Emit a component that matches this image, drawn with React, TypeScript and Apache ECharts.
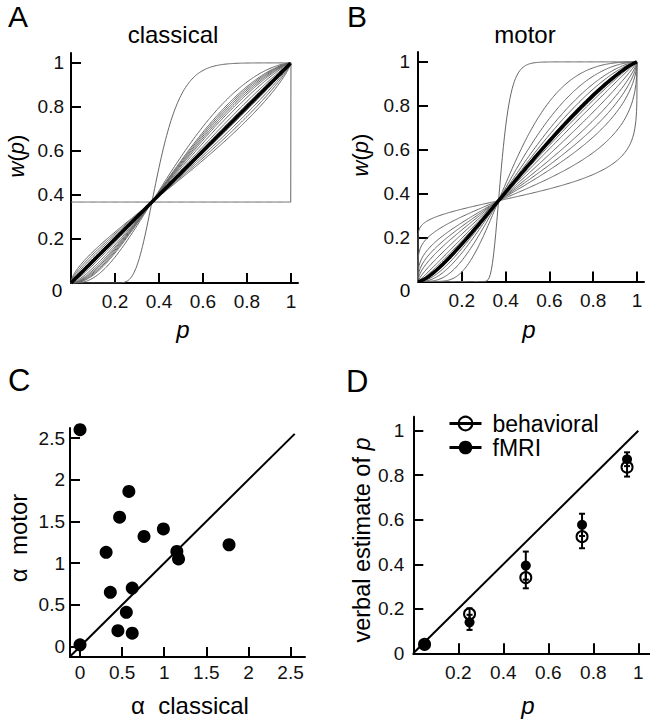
import React, { useEffect, useRef } from "react";
import * as echarts from "echarts";

// ---------- data ----------
// Panel A / B: Prelec weighting curves w(p) = exp(-(-ln p)^alpha), one alpha per subject (estimated from curve shapes)
const classicalCurveAlphas = [0, 5, 1.6, 1.45, 1.4, 1.35, 1.3, 1.25, 1.18, 1.1, 1.05, 0.95, 0.9, 0.85, 0.8];
const classicalGroupAlpha = 1.0;
const motorCurveAlphas = [12, 2.4, 1.8, 1.5, 1.35, 1.25, 1.15, 1.1, 1.02, 0.9, 0.78, 0.68, 0.58, 0.42, 0.22];
const motorGroupAlpha = 1.2;

// Panel C: alpha classical vs alpha motor
const alphaClassical = [0, 0.58, 0.47, 0.99, 0.76, 0.31, 1.15, 1.17, 1.77, 0.36, 0.62, 0.55, 0.45, 0.62, 0];
const alphaMotor = [2.6, 1.86, 1.55, 1.41, 1.32, 1.13, 1.14, 1.05, 1.22, 0.65, 0.7, 0.41, 0.19, 0.16, 0.02];
const identityC = [-0.11, 2.55];

// Panel D: verbal estimates of p
const pLevels = [0.05, 0.25, 0.5, 0.75, 0.95];
const behavioralMean = [0.04, 0.177, 0.34, 0.524, 0.836];
const behavioralErr = [0, 0.025, 0.048, 0.052, 0.042];
const fmriMean = [0.04, 0.139, 0.394, 0.577, 0.872];
const fmriErr = [0, 0.034, 0.063, 0.05, 0.031];
const identityD = [0, 1];

// tick labels
const wTicks = [0.2, 0.4, 0.6, 0.8, 1];
const alphaTicks = [0, 0.5, 1, 1.5, 2, 2.5];
const dTicksY = [0, 0.2, 0.4, 0.6, 0.8, 1];

const FONT = '"Liberation Sans", Arial, Helvetica, sans-serif';

// sample positions along p
const pSamples: number[] = (() => {
  const s = [0, 0.0002, 0.0005, 0.001, 0.002, 0.005];
  for (let i = 2; i <= 198; i++) s.push(i / 200);
  s.push(0.995, 0.998, 0.999, 0.9995, 0.9999, 1);
  return s;
})();

function prelec(p: number, a: number): number {
  if (p >= 1) return 1;
  if (p <= 0) return a === 0 ? Math.exp(-1) : 0;
  return Math.exp(-Math.pow(-Math.log(p), a));
}

function curveSeries(alpha: number, idx: number, thick: boolean) {
  return {
    type: "line",
    xAxisIndex: idx,
    yAxisIndex: idx,
    data: pSamples.map((p) => [p, prelec(p, alpha)]),
    showSymbol: false,
    symbol: "none",
    silent: true,
    animation: false,
    z: thick ? 4 : 2,
    lineStyle: thick ? { color: "#000", width: 3.5 } : { color: "#666", width: 1 },
  };
}

function makeAxis(
  gridIndex: number,
  min: number,
  max: number,
  tickVals: number[],
  labelVals: number[],
  margin: number
) {
  return {
    type: "value",
    gridIndex,
    min,
    max,
    axisLine: { show: true, onZero: false, lineStyle: { color: "#000", width: 2 } },
    axisTick: {
      show: true,
      inside: true,
      length: 10,
      customValues: tickVals,
      lineStyle: { color: "#000", width: 2 },
    },
    axisLabel: {
      show: true,
      customValues: labelVals,
      margin,
      fontSize: 19,
      color: "#111",
      fontFamily: FONT,
      formatter: (v: number) => String(+(+v).toFixed(2)),
    },
    splitLine: { show: false },
  };
}

function txt(
  text: string,
  x: number,
  y: number,
  fontSize: number,
  opts: any = {}
) {
  return {
    type: "text",
    x,
    y,
    rotation: opts.rotation || 0,
    silent: true,
    style: {
      text,
      fill: "#000",
      fontSize,
      fontFamily: FONT,
      fontStyle: opts.italic ? "italic" : "normal",
      textAlign: opts.align || "center",
      textVerticalAlign: "middle",
      rich: {
        i: { fontStyle: "italic", fontSize, fontFamily: FONT, fill: "#000" },
      },
    },
  };
}

export default function App() {
  const ref = useRef<HTMLDivElement>(null);
  useEffect(() => {
    document.body.style.margin = "0";
    const chart = echarts.init(ref.current!, null, { renderer: "svg", width: 650, height: 719 });

    const series: any[] = [];
    classicalCurveAlphas.forEach((a) => series.push(curveSeries(a, 0, false)));
    series.push(curveSeries(classicalGroupAlpha, 0, true));
    motorCurveAlphas.forEach((a) => series.push(curveSeries(a, 1, false)));
    series.push(curveSeries(motorGroupAlpha, 1, true));

    // Panel C
    series.push({
      type: "line",
      xAxisIndex: 2,
      yAxisIndex: 2,
      data: identityC.map((v) => [v, v]),
      symbol: "none",
      silent: true,
      lineStyle: { color: "#000", width: 2 },
      z: 2,
    });
    series.push({
      type: "scatter",
      xAxisIndex: 2,
      yAxisIndex: 2,
      data: alphaClassical.map((x, i) => [x, alphaMotor[i]]),
      symbol: "circle",
      symbolSize: 13,
      itemStyle: { color: "#000", opacity: 1 },
      z: 3,
    });

    // Panel D
    series.push({
      type: "line",
      xAxisIndex: 3,
      yAxisIndex: 3,
      data: identityD.map((v) => [v, v]),
      symbol: "none",
      silent: true,
      lineStyle: { color: "#000", width: 2 },
      z: 2,
    });
    const errSeries = (means: number[], errs: number[]) => ({
      type: "custom",
      xAxisIndex: 3,
      yAxisIndex: 3,
      silent: true,
      z: 3,
      data: pLevels.map((p, i) => [p, means[i] - errs[i], means[i] + errs[i]]),
      renderItem: (params: any, api: any) => {
        const top = api.coord([api.value(0), api.value(2)]);
        const bot = api.coord([api.value(0), api.value(1)]);
        const w = 3;
        const st = { stroke: "#000", lineWidth: 2 };
        return {
          type: "group",
          children: [
            { type: "line", shape: { x1: top[0], y1: top[1], x2: bot[0], y2: bot[1] }, style: st },
            { type: "line", shape: { x1: top[0] - w, y1: top[1], x2: top[0] + w, y2: top[1] }, style: st },
            { type: "line", shape: { x1: bot[0] - w, y1: bot[1], x2: bot[0] + w, y2: bot[1] }, style: st },
          ],
        };
      },
    });
    series.push(errSeries(behavioralMean, behavioralErr));
    series.push(errSeries(fmriMean, fmriErr));
    series.push({
      name: "behavioral",
      type: "line",
      xAxisIndex: 3,
      yAxisIndex: 3,
      data: pLevels.map((p, i) => [p, behavioralMean[i]]),
      symbol: "circle",
      symbolSize: 11,
      showSymbol: true,
      lineStyle: { width: 0, color: "#000" },
      itemStyle: { color: "transparent", borderColor: "#000", borderWidth: 2, opacity: 1 },
      z: 5,
    });
    series.push({
      name: "fMRI",
      type: "line",
      xAxisIndex: 3,
      yAxisIndex: 3,
      data: pLevels.map((p, i) => [p, fmriMean[i]]),
      symbol: "circle",
      symbolSize: 10,
      showSymbol: true,
      lineStyle: { width: 0, color: "#000" },
      itemStyle: { color: "#000", opacity: 1 },
      z: 4,
    });

    const option: any = {
      animation: false,
      backgroundColor: "#fff",
      grid: [
        { left: 71, top: 53, width: 227, height: 230 },
        { left: 418, top: 52, width: 226, height: 229.5 },
        { left: 70, top: 428, width: 235, height: 229 },
        { left: 413.3, top: 416.7, width: 236.7, height: 236.6 },
      ],
      xAxis: [
        makeAxis(0, 0, 1.032, wTicks, wTicks, 9),
        makeAxis(1, 0, 1.032, wTicks, wTicks, 9),
        makeAxis(2, -0.119, 2.672, alphaTicks, alphaTicks, 6),
        makeAxis(3, 0, 1.052, wTicks, wTicks, 10),
      ],
      yAxis: [
        makeAxis(0, 0, 1.045, wTicks, wTicks, 7),
        makeAxis(1, 0, 1.045, wTicks, wTicks, 8),
        makeAxis(2, -0.126, 2.62, alphaTicks, alphaTicks, 5),
        makeAxis(3, 0, 1.063, wTicks, dTicksY, 9),
      ],
      legend: {
        show: true,
        orient: "vertical",
        left: 443,
        top: 407,
        itemWidth: 32,
        itemHeight: 17,
        itemGap: 1,
        selectedMode: false,
        data: [
          {
            name: "behavioral",
            itemStyle: { color: "transparent", borderColor: "#000", borderWidth: 2 },
            lineStyle: { width: 3, color: "#000", opacity: 1 },
          },
          {
            name: "fMRI",
            itemStyle: { color: "#000" },
            lineStyle: { width: 3, color: "#000", opacity: 1 },
          },
        ],
        lineStyle: { width: 3, color: "#000", opacity: 1 },
        textStyle: { fontSize: 23, color: "#000", fontFamily: FONT, padding: [0, 0, 0, 6] },
      },
      graphic: [
        txt("A", 8, 16, 30, { align: "left" }),
        txt("B", 347, 16, 30, { align: "left" }),
        txt("C", 8, 380, 31, { align: "left" }),
        txt("D", 346, 381, 31, { align: "left" }),
        txt("classical", 173, 34.5, 24),
        txt("motor", 525, 34.5, 24),
        txt("{i|w}({i|p})", 16, 156, 22, { rotation: Math.PI / 2 }),
        txt("{i|w}({i|p})", 360, 155, 22, { rotation: Math.PI / 2 }),
        txt("0", 57, 290, 19),
        txt("0", 405, 290, 19),
        txt("{i|p}", 183, 329, 24),
        txt("{i|p}", 529, 329, 24),
        txt("α  motor", 18.5, 538, 24, { rotation: Math.PI / 2 }),
        txt("α  classical", 190, 705, 24),
        txt("verbal estimate of {i|p}", 362, 540, 23.5, { rotation: Math.PI / 2 }),
        txt("{i|p}", 528, 705, 24),
      ],
      series,
    };
    chart.setOption(option);
    return () => chart.dispose();
  }, []);
  return (
    <div
      ref={ref}
      style={{ width: 650, height: 719, position: "absolute", left: 0, top: 0, background: "#fff" }}
    />
  );
}
